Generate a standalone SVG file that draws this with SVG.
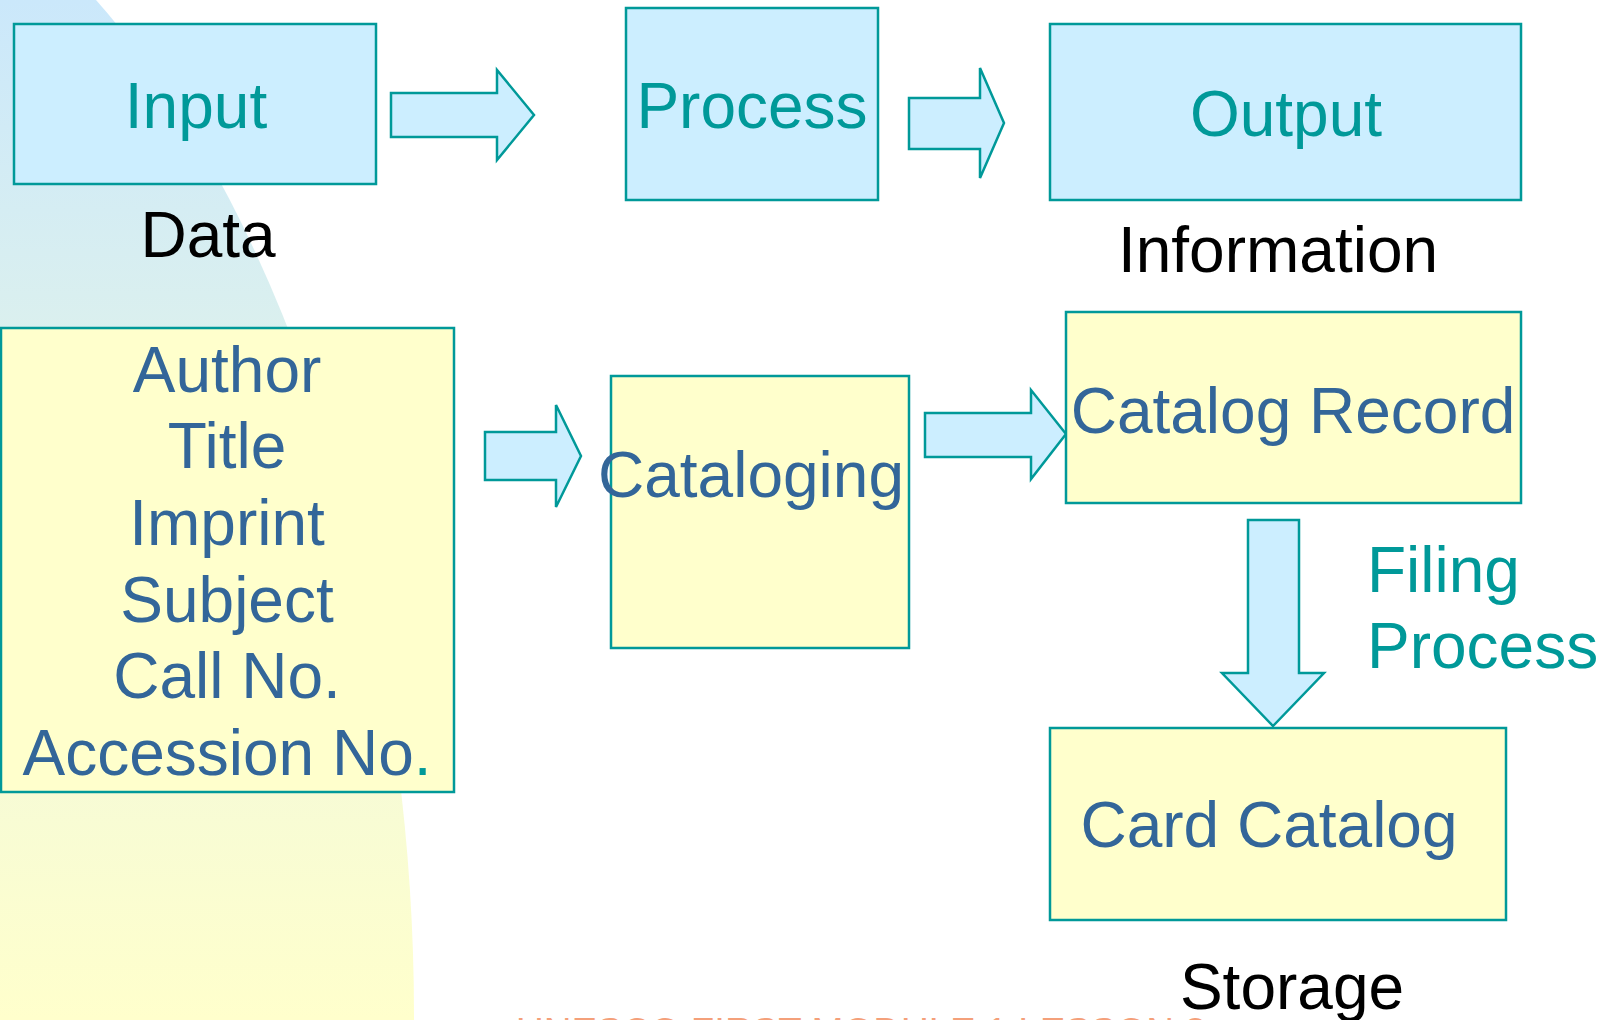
<svg xmlns="http://www.w3.org/2000/svg" width="1602" height="1020" viewBox="0 0 1602 1020">
  <defs>
    <linearGradient id="bgFade" gradientUnits="userSpaceOnUse" x1="0" y1="0" x2="0" y2="1020">
      <stop offset="0" stop-color="#cbe8fb"/>
      <stop offset="0.33" stop-color="#dbf0ee"/>
      <stop offset="0.75" stop-color="#f6fbd6"/>
      <stop offset="1" stop-color="#ffffcc"/>
    </linearGradient>
    <style>
      .box { stroke: #009999; stroke-width: 2.5; }
      .blue { fill: #cceeff; }
      .yellow { fill: #ffffcc; }
      .arrow { fill: #cceeff; stroke: #009999; stroke-width: 2.5; stroke-linejoin: miter; }
      text { font-family: "Liberation Sans", Arial, sans-serif; font-size: 64px; }
      .teal { fill: #009999; }
      .navy { fill: #336699; }
      .label { fill: #000000; }
      .mid { text-anchor: middle; }
      .footer { fill: #f4a07a; font-size: 38px; }
    </style>
  </defs>

  <rect x="0" y="0" width="1602" height="1020" fill="#ffffff"/>
  <!-- soft background sweep on the left -->
  <path d="M0,0 L96,0 C290,220 415,620 414,1020 L0,1020 Z" fill="url(#bgFade)"/>

  <!-- connectors -->
  <g id="connectors">
    <path class="arrow" d="M391,93 L497,93 L497,70 L534,115 L497,160 L497,137 L391,137 Z"/>
    <path class="arrow" d="M909,98 L980,98 L980,68 L1004,123 L980,178 L980,149 L909,149 Z"/>
    <path class="arrow" d="M485,432 L556,432 L556,405 L581,456 L556,507 L556,480 L485,480 Z"/>
    <path class="arrow" d="M925,413 L1031,413 L1031,390 L1066,434 L1031,479 L1031,457 L925,457 Z"/>
    <path class="arrow" d="M1248,520 L1299,520 L1299,673 L1324,673 L1273,726 L1222,673 L1248,673 Z"/>
  </g>

  <g id="input">
    <rect class="box blue" x="14" y="24" width="362" height="160"/>
    <text class="teal mid" x="196" y="128">Input</text>
  </g>
  <text id="label-data" class="label mid" x="208" y="257">Data</text>

  <g id="process">
    <rect class="box blue" x="626" y="8" width="252" height="192"/>
    <text class="teal mid" x="752" y="128">Process</text>
  </g>

  <g id="output">
    <rect class="box blue" x="1050" y="24" width="471" height="176"/>
    <text class="teal mid" x="1286" y="136">Output</text>
  </g>
  <text id="label-information" class="label mid" x="1278" y="272">Information</text>

  <g id="elements">
    <rect class="box yellow" x="1" y="328" width="453" height="464"/>
    <text class="navy mid" x="227" y="392">Author</text>
    <text class="navy mid" x="227" y="468">Title</text>
    <text class="navy mid" x="227" y="545">Imprint</text>
    <text class="navy mid" x="227" y="622">Subject</text>
    <text class="navy mid" x="227" y="698">Call No.</text>
    <text class="navy mid" x="227" y="775">Accession No<tspan class="teal">.</tspan></text>
  </g>

  <g id="cataloging">
    <rect class="box yellow" x="611" y="376" width="298" height="272"/>
    <text class="navy mid" x="751" y="497">Cataloging</text>
  </g>

  <g id="catalog-record">
    <rect class="box yellow" x="1066" y="312" width="455" height="191"/>
    <text class="navy mid" x="1293" y="433">Catalog Record</text>
  </g>

  <g id="label-filing">
    <text class="teal" x="1367" y="592">Filing</text>
    <text class="teal" x="1367" y="668">Process</text>
  </g>

  <g id="card-catalog">
    <rect class="box yellow" x="1050" y="728" width="456" height="192"/>
    <text class="navy mid" x="1269" y="847">Card Catalog</text>
  </g>
  <text id="label-storage" class="label mid" x="1292" y="1009">Storage</text>

  <!-- footer line, mostly below the bottom edge -->
  <text class="footer" x="516" y="1045" textLength="690" lengthAdjust="spacingAndGlyphs">UNESCO FIRST MODULE 1 LESSON 3</text>
</svg>
